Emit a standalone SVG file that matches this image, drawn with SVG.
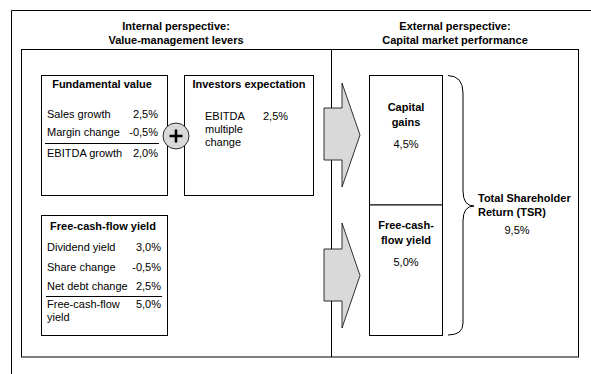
<svg xmlns="http://www.w3.org/2000/svg" width="591" height="374" viewBox="0 0 591 374">
<style>
text{font-family:"Liberation Sans",Arial,sans-serif;font-size:11px;fill:#000}
.b{font-weight:bold}
.m{text-anchor:middle}
.e{text-anchor:end}
.box{fill:#fff;stroke:#000;stroke-width:1}
.ln{stroke:#000;stroke-width:1;fill:none}
.arr{fill:#d9d9d9;stroke:#000;stroke-width:0.8}
</style>
<rect width="591" height="374" fill="#fff"/>
<g id="frame">
<path class="ln" d="M11.5,374 V10.5 H591" stroke-width="1.2"/>
<rect x="21.5" y="49.5" width="557" height="307.5" class="ln"/>
<line x1="331.5" y1="49.5" x2="331.5" y2="357" class="ln"/>
<text class="b m" x="176" y="30">Internal perspective:</text>
<text class="b m" x="176" y="44">Value-management levers</text>
<text class="b m" x="455" y="30">External perspective:</text>
<text class="b m" x="455" y="44">Capital market performance</text>
</g>
<g id="fundamental">
<rect class="box" x="41.5" y="75.5" width="126" height="120"/>
<text class="b m" x="102" y="88">Fundamental value</text>
<text x="47" y="118">Sales growth</text><text class="e" x="158" y="118">2,5%</text>
<text x="47" y="136">Margin change</text><text class="e" x="158" y="136">-0,5%</text>
<line class="ln" x1="45" y1="143.5" x2="159" y2="143.5"/>
<text x="47" y="157">EBITDA growth</text><text class="e" x="158" y="157">2,0%</text>
</g>
<g id="investors">
<rect class="box" x="184.5" y="75.5" width="129" height="120"/>
<text class="b m" x="249" y="88">Investors expectation</text>
<text x="205" y="120">EBITDA</text><text x="263" y="120">2,5%</text>
<text x="205" y="133">multiple</text>
<text x="205" y="146">change</text>
</g>
<g id="plus">
<circle cx="176" cy="136" r="13" fill="#d9d9d9" stroke="#000" stroke-width="0.8"/>
<path d="M176,129.5 V142.5 M169.5,136 H182.5" stroke="#000" stroke-width="2.6"/>
</g>
<g id="fcf">
<rect class="box" x="41.5" y="215.5" width="126" height="120"/>
<text class="b m" x="103" y="230">Free-cash-flow yield</text>
<text x="47" y="251">Dividend yield</text><text class="e" x="161" y="251">3,0%</text>
<text x="47" y="271">Share change</text><text class="e" x="161" y="271">-0,5%</text>
<text x="47" y="290">Net debt change</text><text class="e" x="161" y="290">2,5%</text>
<line class="ln" x1="46" y1="296.5" x2="162" y2="296.5"/>
<text x="47" y="308">Free-cash-flow</text><text class="e" x="161" y="308">5,0%</text>
<text x="47" y="321">yield</text>
</g>
<g id="connectors">
<path class="arr" d="M324,108 H342 V83 L360,135 L342,187 V160 H324 Z"/>
<path class="arr" d="M324,249 H342 V223 L360,275.5 L342,328 V301 H324 Z"/>
<path class="ln" d="M448,75.5 Q463,76 463,93 V191 Q463,206 474,206 Q463,206 463,221 V323 Q463,335 448,335"/>
</g>
<g id="capital">
<rect class="box" x="369.5" y="75.5" width="73" height="129.5"/>
<text class="b m" x="406" y="111">Capital</text>
<text class="b m" x="406" y="126">gains</text>
<text class="m" x="406" y="148">4,5%</text>
</g>
<g id="fcfy">
<rect class="box" x="369.5" y="205" width="73" height="130.5"/>
<text class="b m" x="406" y="229">Free-cash-</text>
<text class="b m" x="406" y="244">flow yield</text>
<text class="m" x="406" y="266">5,0%</text>
</g>
<g id="tsr">
<text class="b" x="478" y="202">Total Shareholder</text>
<text class="b" x="478" y="216">Return (TSR)</text>
<text class="m" x="517" y="234">9,5%</text>
</g>
</svg>
